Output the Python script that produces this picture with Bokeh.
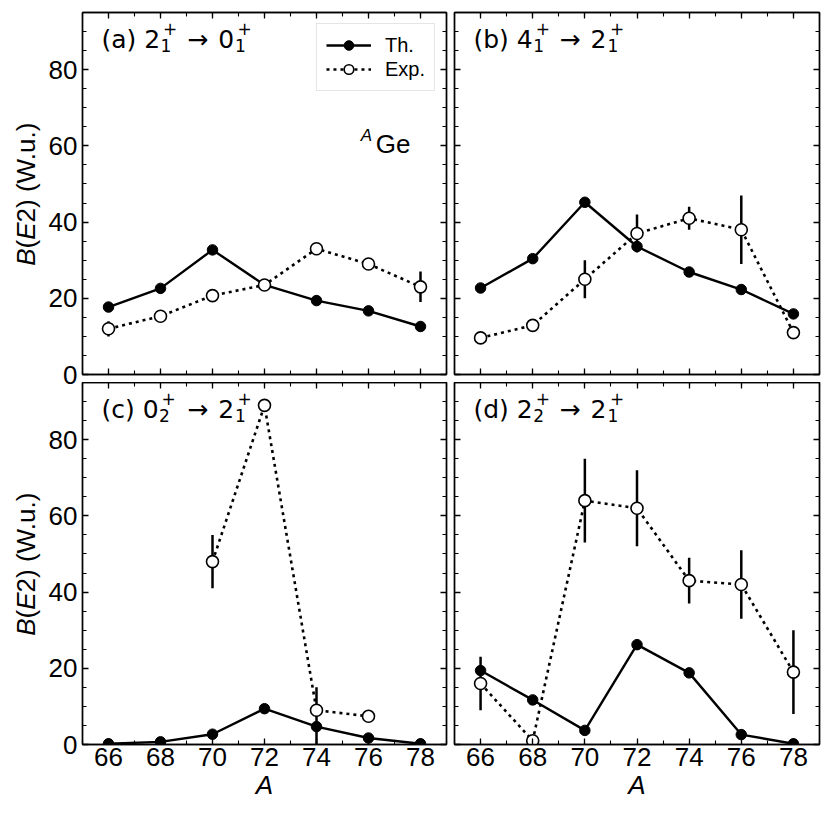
import numpy as np
from bokeh.plotting import figure
from bokeh.models import (Range1d, LinearAxis, SingleIntervalTicker, Label,
                          Legend, LegendItem, ColumnDataSource,
                          CustomJSTickFormatter)
from bokeh.layouts import column, row
from bokeh.embed import file_html
from bokeh.resources import INLINE

nan = np.nan

# ---------------- data ----------------
A = [66, 68, 70, 72, 74, 76, 78]

th_a = [17.7, 22.6, 32.7, 23.5, 19.4, 16.7, 12.6]
exp_a = [12.0, 15.3, 20.7, 23.5, 33.0, 29.0, 23.0]
err_a_lo = [2.0, 0.5, 0.5, 0.5, 0.8, 0.5, 4.0]
err_a_hi = [2.0, 0.5, 0.5, 0.5, 0.8, 0.5, 4.0]

th_b = [22.7, 30.4, 45.2, 33.6, 26.9, 22.3, 15.9]
exp_b = [9.6, 12.9, 25.0, 37.0, 41.0, 38.0, 11.0]
err_b_lo = [0.5, 0.5, 5.0, 5.0, 3.0, 9.0, 1.0]
err_b_hi = [0.5, 0.5, 5.0, 5.0, 3.0, 9.0, 1.0]

th_c = [0.2, 0.7, 2.7, 9.4, 4.7, 1.7, 0.2]
exp_c = [nan, nan, 48.0, 89.0, 9.0, 7.4, nan]
err_c_lo = [nan, nan, 7.0, 0.5, 9.0, 0.5, nan]
err_c_hi = [nan, nan, 7.0, 0.5, 6.0, 0.5, nan]

th_d = [19.4, 11.7, 3.7, 26.2, 18.8, 2.6, 0.2]
exp_d = [16.0, 1.0, 64.0, 62.0, 43.0, 42.0, 19.0]
err_d_lo = [7.0, 0.5, 11.0, 10.0, 6.0, 9.0, 11.0]
err_d_hi = [7.0, 0.5, 11.0, 10.0, 6.0, 9.0, 11.0]

panel_main1 = ["(a) 2", "(b) 4", "(c) 0", "(d) 2"]
panel_sub1 = ["1", "1", "2", "2"]
panel_main2 = ["0", "2", "2", "2"]
panel_sub2 = ["1", "1", "1", "1"]

x_ticks_interval = 2
y_ticks_interval = 20

# ---------------- layout constants ----------------
X0, X1 = 65, 79
Y0, Y1 = 0, 95
FW, FH = 365, 362
LABW = 45
ML_LAB, ML_NOLAB = 36, 4
MR_A, MR_B = 4, 8
MT_TOP, MT_BOT = 12, 0
MB_TOP, MB_BOT = 16, 63
ROW_OVERLAP = 8
PX = FW / (X1 - X0)
PY = FH / (Y1 - Y0)
TB = -8  # baseline correction for Label text (px)

TICK_FONT = "Liberation Sans"
MATH_FONT = "DejaVu Sans"
MAIN_FS = 25
SUB_FS = 17

DJ = {"(": 0.390, ")": 0.390, " ": 0.318, "a": 0.613, "b": 0.635,
      "c": 0.550, "d": 0.635}
for d in "0123456789":
    DJ[d] = 0.636


def dj_width(s, size):
    return sum(DJ.get(ch, 0.6) for ch in s) * size


def dx(px):
    return X0 + px / PX


def dy(px_from_top):
    return Y1 - (px_from_top + TB) / PY


def style_axis(ax, labels, interval, minor):
    ax.ticker = SingleIntervalTicker(interval=interval, num_minor_ticks=minor)
    ax.axis_line_color = "black"
    ax.axis_line_width = 1.3
    ax.major_tick_line_color = "black"
    ax.minor_tick_line_color = "black"
    ax.major_tick_in = 6
    ax.major_tick_out = 0
    ax.minor_tick_in = 4
    ax.minor_tick_out = 0
    ax.major_tick_line_width = 1.3
    ax.minor_tick_line_width = 1.1
    if labels:
        ax.major_label_text_font = TICK_FONT
        ax.major_label_text_font_size = "26px"
        ax.major_label_text_color = "black"
    else:
        ax.formatter = CustomJSTickFormatter(code="return ''")
        ax.major_label_text_font_size = "1px"
        ax.major_label_standoff = 0


def make_panel(idx, th, exp, elo, ehi, xlabels, ylabels, mt, mb, clear):
    ml = ML_LAB if ylabels else ML_NOLAB
    mr = MR_A if ylabels else MR_B
    p = figure(width=ml + FW + mr, height=mt + FH + mb,
               x_range=Range1d(X0, X1), y_range=Range1d(Y0, Y1),
               output_backend="svg", toolbar_location=None,
               min_border_left=ml, min_border_right=mr,
               min_border_top=mt, min_border_bottom=mb,
               background_fill_color="white", border_fill_color="white",
               border_fill_alpha=0 if clear else 1,
               outline_line_color="black", outline_line_width=1.5)
    p.xgrid.visible = False
    p.ygrid.visible = False

    style_axis(p.xaxis[0], xlabels, x_ticks_interval, 2)
    style_axis(p.yaxis[0], ylabels, y_ticks_interval, 4)
    p.xaxis[0].major_label_standoff = 3 if xlabels else 0
    p.yaxis[0].major_label_standoff = 5 if ylabels else 0
    if xlabels:
        p.xaxis[0].axis_label = "A"
        p.xaxis[0].axis_label_text_font = TICK_FONT
        p.xaxis[0].axis_label_text_font_size = "26px"
        p.xaxis[0].axis_label_text_font_style = "italic"
        p.xaxis[0].axis_label_standoff = 1
        p.xaxis[0].axis_label_text_color = "black"

    top = LinearAxis()
    style_axis(top, False, x_ticks_interval, 2)
    p.add_layout(top, "above")
    right = LinearAxis()
    style_axis(right, False, y_ticks_interval, 4)
    p.add_layout(right, "right")

    th = np.array(th, dtype=float)
    exp = np.array(exp, dtype=float)
    elo = np.array(elo, dtype=float)
    ehi = np.array(ehi, dtype=float)
    src = ColumnDataSource(dict(x=np.array(A, dtype=float), th=th, exp=exp,
                                lo=exp - elo, hi=exp + ehi))

    th_line = p.line("x", "th", source=src, line_color="black", line_width=2.4)
    th_pts = p.scatter("x", "th", source=src, marker="circle", size=10.5,
                       fill_color="black", line_color="black", line_width=1)
    p.segment(x0="x", y0="lo", x1="x", y1="hi", source=src,
              line_color="black", line_width=2.5)
    exp_line = p.line("x", "exp", source=src, line_color="black",
                      line_width=2.6, line_dash="3 4")
    exp_pts = p.scatter("x", "exp", source=src, marker="circle", size=12,
                        fill_color="white", line_color="black", line_width=1.6)

    # panel label pieces (px from frame left / frame top)
    x0 = 19
    base = 34.7
    m1 = panel_main1[idx]
    sx = x0 + dj_width(m1, MAIN_FS) + 0.5
    mfs = f"{MAIN_FS}px"
    sfs = f"{SUB_FS}px"
    pieces = [
        (x0, base, m1, mfs),
        (sx, base + 6.6, panel_sub1[idx], sfs),
        (sx + 2.5, base - 10.4, "+", sfs),
        (x0 + 86, base, "\u2192", mfs),
        (x0 + 117, base, panel_main2[idx], mfs),
        (x0 + 134, base + 6.6, panel_sub2[idx], sfs),
        (x0 + 136.5, base - 10.4, "+", sfs),
    ]
    for (px_, py_, t, fs) in pieces:
        p.add_layout(Label(x=dx(px_), y=dy(py_), text=t, text_font=MATH_FONT,
                           text_font_size=fs, text_align="left",
                           text_baseline="alphabetic", text_color="black"))
    return p, (th_line, th_pts, exp_line, exp_pts)


def make_ylabel_fig(mt, mb, clear):
    f = figure(width=LABW, height=mt + FH + mb, x_range=Range1d(0, LABW),
               y_range=Range1d(0, FH), output_backend="svg",
               toolbar_location=None, x_axis_type=None, y_axis_type=None,
               min_border_left=0, min_border_right=0,
               min_border_top=mt, min_border_bottom=mb,
               outline_line_color=None, background_fill_color="white",
               border_fill_color="white",
               border_fill_alpha=0 if clear else 1)
    f.xgrid.visible = False
    f.ygrid.visible = False
    fs = 26
    total = 5.556 * fs
    start = (FH - total) / 2.0
    offs = [(0.0, "B", "italic"), (0.667 * fs, "(", "normal"),
            (1.0 * fs, "E", "italic"), (1.667 * fs, "2) (W.u.)", "normal")]
    for o, t, st in offs:
        f.add_layout(Label(x=25, y=start + o, text=t,
                           text_font=TICK_FONT, text_font_size="26px",
                           text_font_style=st, angle=np.pi / 2,
                           text_align="left", text_baseline="middle",
                           text_color="black"))
    return f


pa, ra = make_panel(0, th_a, exp_a, err_a_lo, err_a_hi, False, True, MT_TOP, MB_TOP, False)
pb, _ = make_panel(1, th_b, exp_b, err_b_lo, err_b_hi, False, False, MT_TOP, MB_TOP, False)
pc, _ = make_panel(2, th_c, exp_c, err_c_lo, err_c_hi, True, True, MT_BOT, MB_BOT, True)
pd, _ = make_panel(3, th_d, exp_d, err_d_lo, err_d_hi, True, False, MT_BOT, MB_BOT, True)

legend = Legend(items=[LegendItem(label="Th.", renderers=[ra[0], ra[1]]),
                       LegendItem(label="Exp.", renderers=[ra[2], ra[3]])],
                location="top_right", margin=11, padding=9, spacing=0,
                glyph_width=45, glyph_height=24, label_height=24,
                label_standoff=14, label_text_font=TICK_FONT,
                label_text_font_size="20px", label_text_color="black",
                border_line_color="#cccccc",
                border_line_width=1, background_fill_alpha=0.8)
pa.add_layout(legend)

# ^A Ge annotation
pa.add_layout(Label(x=dx(279), y=dy(130.5), text="A", text_font=TICK_FONT,
                    text_font_size="17px", text_font_style="italic",
                    text_align="left", text_baseline="alphabetic",
                    text_color="black"))
pa.add_layout(Label(x=dx(294), y=dy(139.7), text="Ge", text_font=TICK_FONT,
                    text_font_size="26px", text_align="left",
                    text_baseline="alphabetic", text_color="black"))

la = make_ylabel_fig(MT_TOP, MB_TOP, False)
lc = make_ylabel_fig(MT_BOT, MB_BOT, True)

row1 = row(la, pa, pb)
row2 = row(lc, pc, pd, margin=(-ROW_OVERLAP, 0, 0, 0))
layout = column(row1, row2)
open("out.html", "w").write(file_html(layout, INLINE))
